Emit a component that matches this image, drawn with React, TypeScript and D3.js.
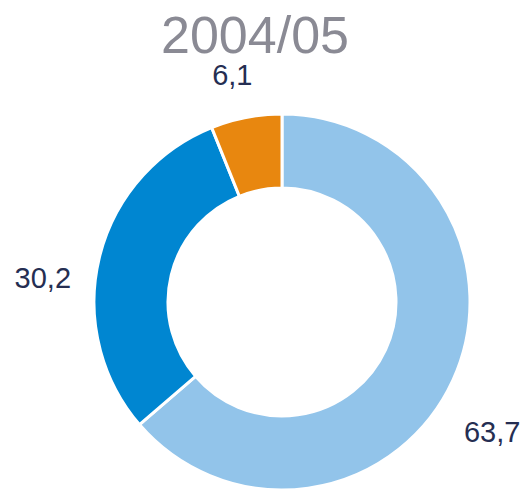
import React from 'react';
import * as d3 from 'd3';

const title = '2004/05';
const categories = ['A', 'B', 'C'];
const values = [63.7, 30.2, 6.1];
const labels = ['63,7', '30,2', '6,1'];
const colors = ['#92c4ea', '#0086d1', '#e8870f'];
// small per-label nudges so the numbers sit where the original put them
const labelNudge: [number, number][] = [[-8, 40], [-6, 43], [-4, 19]];

const width = 527;
const height = 492;

const App: React.FC = () => {
  const cx = 282;
  const cy = 302;
  const outerR = 188;
  const innerR = 114;

  const pie = d3.pie<number>().sort(null).value((d) => d);
  const arcs = pie(values);
  const arc = d3.arc<d3.PieArcDatum<number>>().innerRadius(innerR).outerRadius(outerR);
  const labelArc = d3.arc<d3.PieArcDatum<number>>().innerRadius(240).outerRadius(240);

  return (
    <div style={{ position: 'fixed', left: 0, top: 0 }}>
      <svg width={width} height={height} style={{ display: 'block' }}>
        <rect width={width} height={height} fill="#ffffff" />
        <text
          x={cx - 27}
          y={53}
          textAnchor="middle"
          fontFamily="'Liberation Sans', Arial, sans-serif"
          fontSize={52}
          fill="#8a8a94"
        >
          {title}
        </text>
        <g transform={`translate(${cx},${cy})`}>
          {arcs.map((a, i) => (
            <path
              key={categories[i]}
              d={arc(a) || ''}
              fill={colors[i]}
              stroke="#ffffff"
              strokeWidth={3}
              strokeLinejoin="miter"
            />
          ))}
          {arcs.map((a, i) => {
            const [x, y] = labelArc.centroid(a);
            return (
              <text
                key={'l' + categories[i]}
                x={x + labelNudge[i][0]}
                y={y + labelNudge[i][1]}
                textAnchor="middle"
                fontFamily="'Liberation Sans', Arial, sans-serif"
                fontSize={29}
                fill="#252e52"
              >
                {labels[i]}
              </text>
            );
          })}
        </g>
      </svg>
    </div>
  );
};

export default App;
